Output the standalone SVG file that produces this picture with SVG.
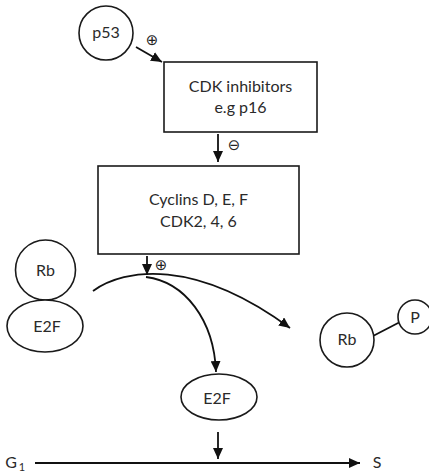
<svg xmlns="http://www.w3.org/2000/svg" width="429" height="473" viewBox="0 0 429 473">
<style>
.shape{fill:#fff;stroke:#1a1a1a;stroke-width:1.6}
.lbl{font-family:Lato,"Open Sans","Liberation Sans",sans-serif;font-size:16px;font-weight:400;fill:#2a2a2a;text-anchor:middle}
.sign{font-family:"DejaVu Sans",sans-serif;font-size:15px;fill:#222;text-anchor:middle}
.conn{fill:none;stroke:#111;stroke-width:1.8}
</style>
<defs>
<marker id="ah" markerUnits="userSpaceOnUse" markerWidth="12" markerHeight="10" refX="11" refY="5" orient="auto">
<path d="M0,0 L11,5 L0,10 Z" fill="#111"/>
</marker>
</defs>
<rect width="429" height="473" fill="#fff"/>
<g id="connectors">
<line class="conn" x1="136" y1="47" x2="162" y2="62" marker-end="url(#ah)"/>
<line class="conn" x1="218" y1="134" x2="218" y2="162" marker-end="url(#ah)"/>
<line class="conn" x1="147" y1="256" x2="147" y2="275" marker-end="url(#ah)"/>
<path class="conn" d="M93,291 C125,268 195,258 290,328" marker-end="url(#ah)"/>
<path class="conn" d="M146,277 C185,282 214,320 216,372" marker-end="url(#ah)"/>
<line class="conn" x1="218" y1="432" x2="218" y2="459" marker-end="url(#ah)"/>
<line class="conn" x1="35" y1="463" x2="360" y2="463" marker-end="url(#ah)"/>
<line class="conn" x1="373" y1="336" x2="400" y2="322"/>
<text class="sign" x="152" y="45">⊕</text>
<text class="sign" x="234" y="150">⊖</text>
<text class="sign" x="161" y="270">⊕</text>
</g>
<g id="p53">
<circle class="shape" cx="106" cy="33" r="27"/>
<text class="lbl" x="106" y="38">p53</text>
</g>
<g id="cdk-inhibitors">
<rect class="shape" x="164" y="62" width="153" height="70"/>
<text class="lbl" x="240.5" y="92">CDK inhibitors</text>
<text class="lbl" x="240.5" y="113">e.g p16</text>
</g>
<g id="cyclins">
<rect class="shape" x="98" y="166" width="201" height="88"/>
<text class="lbl" x="198.5" y="205">Cyclins D, E, F</text>
<text class="lbl" x="198.5" y="227">CDK2, 4, 6</text>
</g>
<g id="rb-left">
<circle class="shape" cx="45.5" cy="270" r="30"/>
<text class="lbl" x="45.5" y="276">Rb</text>
</g>
<g id="e2f-left">
<ellipse class="shape" cx="45" cy="326" rx="38" ry="26"/>
<text class="lbl" x="47" y="332">E2F</text>
</g>
<g id="rb-right">
<circle class="shape" cx="347" cy="340" r="27"/>
<text class="lbl" x="347" y="345">Rb</text>
</g>
<g id="p">
<circle class="shape" cx="415" cy="317" r="17"/>
<text class="lbl" x="415" y="323">P</text>
</g>
<g id="e2f-free">
<ellipse class="shape" cx="219" cy="397" rx="38" ry="23"/>
<text class="lbl" x="217" y="404">E2F</text>
</g>
<g id="phase-labels">
<text class="lbl" x="11" y="468">G</text>
<text class="lbl" x="22" y="471" style="font-size:11px">1</text>
<text class="lbl" x="377" y="468">S</text>
</g>
</svg>
